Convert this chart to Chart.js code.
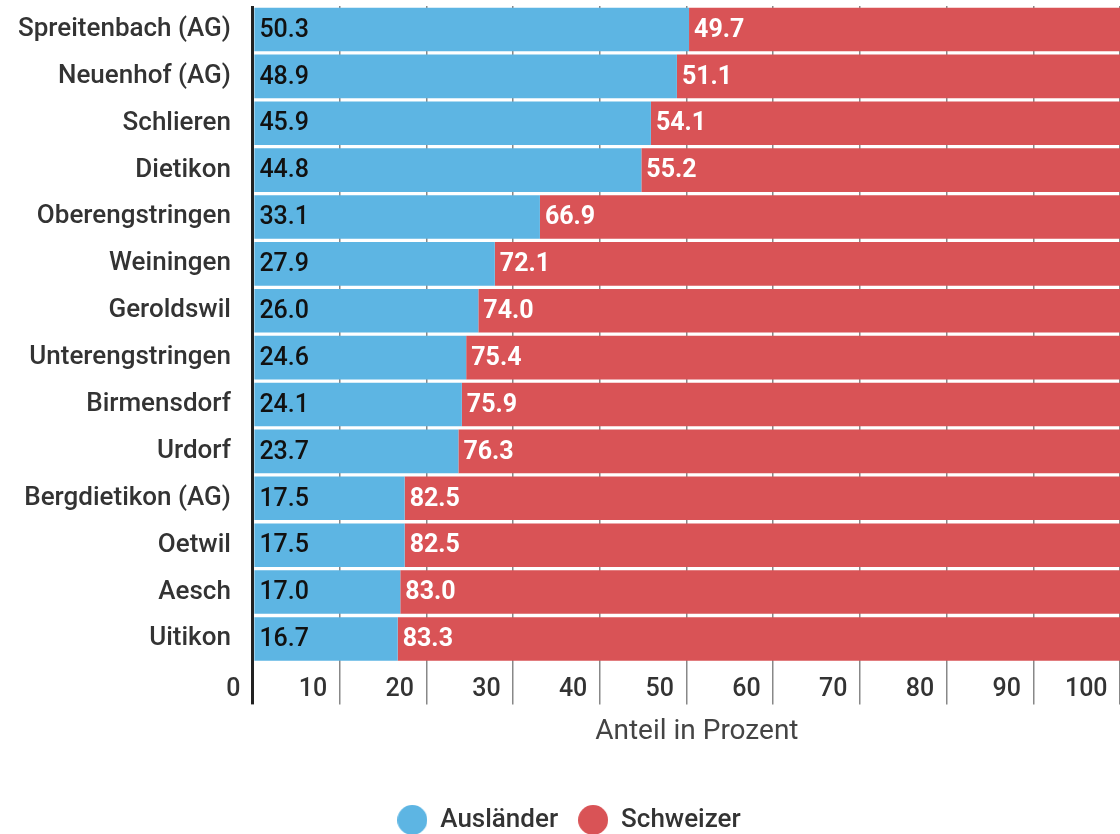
<!DOCTYPE html>
<html>
<head>
<meta charset="utf-8">
<script src="https://cdn.jsdelivr.net/npm/chart.js@4"></script>
<style>
  html, body { margin: 0; padding: 0; background: #fff; }
  #wrap { width: 1120px; height: 834px; }
</style>
</head>
<body>
<div id="wrap"><canvas id="anteilChart"></canvas></div>
<script>
const gemeinden = ['Spreitenbach (AG)', 'Neuenhof (AG)', 'Schlieren', 'Dietikon', 'Oberengstringen',
    'Weiningen', 'Geroldswil', 'Unterengstringen', 'Birmensdorf', 'Urdorf', 'Bergdietikon (AG)',
    'Oetwil', 'Aesch', 'Uitikon'];
const auslaender = [50.3, 48.9, 45.9, 44.8, 33.1, 27.9, 26.0, 24.6, 24.1, 23.7, 17.5, 17.5, 17.0, 16.7];
const schweizer = [49.7, 51.1, 54.1, 55.2, 66.9, 72.1, 74.0, 75.4, 75.9, 76.3, 82.5, 82.5, 83.0, 83.3];
const xTicks = [0, 10, 20, 30, 40, 50, 60, 70, 80, 90, 100];

const BLUE = '#5db5e3';
const RED = '#d95356';
const FONT = 'Roboto, "Open Sans", sans-serif';

// round legend markers
function dot(color) {
    const c = document.createElement('canvas');
    c.width = 30; c.height = 30;
    const g = c.getContext('2d');
    g.fillStyle = color;
    g.beginPath();
    g.arc(15, 15, 15, 0, Math.PI * 2);
    g.fill();
    return c;
}

// value labels at the start of each bar segment
const valueLabels = {
    id: 'valueLabels',
    afterDatasetsDraw(chart) {
        const { ctx } = chart;
        chart.data.datasets.forEach((ds, i) => {
            const meta = chart.getDatasetMeta(i);
            meta.data.forEach((bar, j) => {
                ctx.save();
                ctx.font = (i === 0 ? '500 ' : 'bold ') + '25px ' + FONT;
                ctx.fillStyle = i === 0 ? '#111' : '#fff';
                ctx.textBaseline = 'middle';
                ctx.textAlign = 'left';
                ctx.fillText(ds.data[j].toFixed(1), Math.min(bar.x, bar.base) + 5, bar.y + 1);
                ctx.restore();
            });
        });
    }
};

new Chart(document.getElementById('anteilChart'), {
    type: 'bar',
    data: {
        labels: gemeinden,
        datasets: [
            { label: 'Ausländer', data: auslaender, backgroundColor: BLUE, pointStyle: dot(BLUE) },
            { label: 'Schweizer', data: schweizer, backgroundColor: RED, pointStyle: dot(RED) }
        ]
    },
    options: {
        indexAxis: 'y',
        responsive: true,
        maintainAspectRatio: false,
        animation: false,
        layout: { padding: { top: 6, left: 18, right: 0, bottom: -9 } },
        datasets: { bar: { categoryPercentage: 1, barPercentage: 0.93 } },
        plugins: {
            legend: {
                position: 'bottom',
                labels: {
                    usePointStyle: true,
                    pointStyleWidth: 30,
                    padding: 20,
                    color: '#333',
                    font: { family: FONT, size: 26, weight: '500' }
                }
            },
            tooltip: { enabled: false }
        },
        scales: {
            x: {
                stacked: true,
                min: 0,
                max: 100,
                afterBuildTicks: axis => { axis.ticks = xTicks.map(v => ({ value: v })); },
                border: { display: false },
                grid: {
                    color: c => c.tick && c.tick.value === 0 ? '#222' : '#888',
                    lineWidth: c => c.tick && c.tick.value === 0 ? 3 : 1.5,
                    tickLength: 42
                },
                ticks: {
                    align: 'end',
                    padding: -30,
                    color: '#333',
                    font: { family: FONT, size: 25, weight: '500' },
                    callback: v => v + '  '
                },
                title: {
                    display: true,
                    // leading spaces nudge the centred title a bit to the right
                    text: '   Anteil in Prozent',
                    color: '#444',
                    font: { family: FONT, size: 28 },
                    padding: { top: 41, bottom: 38 }
                }
            },
            y: {
                stacked: true,
                border: { display: false },
                grid: { drawOnChartArea: false, tickLength: 22, tickColor: 'rgba(0,0,0,0)' },
                ticks: {
                    padding: 0,
                    color: '#333',
                    font: { family: FONT, size: 26, weight: '500' }
                },
                // bars fill the plot height, no extra room for half labels
                afterFit: axis => { axis.paddingTop = 0; axis.paddingBottom = 0; }
            }
        }
    },
    plugins: [valueLabels]
});
</script>
</body>
</html>
